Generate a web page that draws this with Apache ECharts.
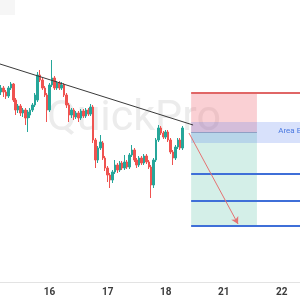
<!DOCTYPE html>
<html><head><meta charset="utf-8">
<script src="https://cdn.jsdelivr.net/npm/echarts@6/dist/echarts.min.js"></script>
<style>html,body{margin:0;padding:0;background:#fff}#c{width:300px;height:300px}</style>
</head><body><div id="c"></div>
<script>
// Day tick labels and the slot index of each day's start
const dayLabels = ['16', '17', '18', '21', '22'];
const dayIndex = [20, 44, 68, 92, 116];
const totalSlots = 124;
// Candles: [open, close, low, high]
const candles = [
[208,212,205,215],[212,208,203,214],[208,204,201,210],[204,212,202,214],[212,216,210,218],
[216,200,198,217],[200,190,185,202],[190,194,187,196],[194,187,184,196],[187,190,183,192],
[190,182,175,192],[182,188,168,190],[185,190,182,192],[190,195,188,197],[195,205,193,207],
[200,225,198,228],[225,220,218,230],[220,212,210,222],[212,205,203,214],[205,190,178,207],
[190,215,188,217],[215,222,213,240],[222,212,210,224],[212,217,210,219],[217,212,210,219],
[212,215,210,218],[215,205,203,217],[205,195,192,207],[195,185,178,197],[185,190,182,192],
[190,183,180,192],[183,187,181,189],[187,182,178,189],[182,189,180,191],[189,184,182,191],
[184,190,182,192],[190,186,184,192],[186,193,184,196],[193,160,157,195],[160,140,132,162],
[140,152,137,154],[152,158,150,165],[157,142,140,159],[142,132,129,144],[132,125,118,134],
[125,120,112,127],[120,128,117,130],[128,135,126,140],[135,130,127,137],[130,137,128,139],
[137,132,130,139],[132,138,130,145],[138,133,131,140],[133,145,131,147],[145,150,143,155],
[150,140,138,152],[140,135,132,142],[135,142,133,144],[142,137,135,144],[137,144,135,146],
[144,138,136,146],[138,133,131,140],[133,115,102,135],[115,140,112,142],[140,160,138,162],
[160,172,158,175],[172,167,165,174],[167,163,161,169],[163,168,161,170],[168,160,158,170],
[160,148,146,162],[148,142,135,150],[142,153,140,155],[153,160,151,162],[160,152,150,162],
[152,172,150,174]
];
// Drawing levels (price units) and time positions (slot units)
const trendLine = [[0, 236], [79.8, 175]];
const projection = [[78.1, 167], [98.4, 76]];
const zoneStart = 79, zoneEnd = 106.2;
const stopLevel = 207, entryLevel = 168;
const areaTop = 178, areaBottom = 157;
const targetLevels = [126, 99, 74];
const areaLabel = 'Area Entry';

const categories = [];
for (let i = 0; i < totalSlots; i++) categories.push(String(i));

const chart = echarts.init(document.getElementById('c'), null, {renderer: 'canvas'});
chart.setOption({
  animation: false,
  backgroundColor: '#fff',
  grid: {left: 0, right: 0, top: 0, bottom: 18, containLabel: false},
  xAxis: [{
    type: 'category', data: categories, boundaryGap: true,
    axisLine: {show: true, lineStyle: {color: '#e3e3e3', width: 1}},
    axisTick: {show: false},
    axisLabel: {
      interval: (i) => dayIndex.includes(i),
      formatter: (v, i) => { const k = dayIndex.indexOf(Number(v)); return k >= 0 ? dayLabels[k] : ''; },
      color: '#3c3c3c', fontSize: 10, fontWeight: 'bold', fontFamily: 'Roboto', margin: 5
    },
    splitLine: {show: false}
  }, {
    type: 'value', min: 0, max: totalSlots, show: false
  }],
  yAxis: {type: 'value', min: 18, max: 300, show: false, splitLine: {show: false}},
  graphic: [
    {type: 'rect', left: 0, top: 0, shape: {width: 15, height: 15}, style: {fill: '#f6f6f6'}, z: -10},
    {type: 'text', x: 134, y: 119, z: -5,
     style: {text: 'QuickPro', font: '43px Roboto', fill: '#ececec', textAlign: 'center', textVerticalAlign: 'middle'}}
  ],
  series: [
    {
      type: 'scatter', xAxisIndex: 1, data: [], silent: true, z: 1,
      markArea: {
        silent: true,
        data: [
          [{coord: [zoneStart, stopLevel], itemStyle: {color: 'rgba(240,110,120,0.32)'}}, {coord: [zoneEnd, entryLevel]}],
          [{coord: [zoneStart, entryLevel], itemStyle: {color: 'rgba(60,180,150,0.22)'}}, {coord: [zoneEnd, targetLevels[2]]}],
          [{coord: [zoneStart, areaTop], itemStyle: {color: 'rgba(90,130,240,0.24)'}}, {coord: [totalSlots, areaBottom]}]
        ]
      }
    },
    {
      type: 'candlestick', data: candles, barWidth: 2, z: 3,
      itemStyle: {color: '#26a69a', color0: '#ef5350', borderColor: '#26a69a', borderColor0: '#ef5350', borderWidth: 1}
    },
    {
      type: 'line', xAxisIndex: 1, data: trendLine, symbol: 'none', z: 4,
      lineStyle: {color: '#3a3a3a', width: 1}
    },
    {
      type: 'scatter', xAxisIndex: 1, data: [], silent: true, z: 5,
      markLine: {
        silent: true, symbol: 'none', label: {show: false},
        data: [
          [{coord: [zoneStart, stopLevel], lineStyle: {color: '#e06666', width: 2, type: 'solid'}}, {coord: [totalSlots, stopLevel]}],
          [{coord: [zoneStart, entryLevel], lineStyle: {color: '#8f9fc4', width: 1, type: 'solid'}}, {coord: [zoneEnd, entryLevel]}],
          [{coord: [zoneStart, targetLevels[0]], lineStyle: {color: '#3f6fd8', width: 2, type: 'solid'}}, {coord: [totalSlots, targetLevels[0]]}],
          [{coord: [zoneStart, targetLevels[1]], lineStyle: {color: '#3f6fd8', width: 2, type: 'solid'}}, {coord: [totalSlots, targetLevels[1]]}],
          [{coord: [zoneStart, targetLevels[2]], lineStyle: {color: '#3f6fd8', width: 2, type: 'solid'}}, {coord: [totalSlots, targetLevels[2]]}],
          [{coord: projection[0], symbol: 'none', lineStyle: {color: '#e57373', width: 1, type: 'solid'}},
           {coord: projection[1], symbol: 'arrow', symbolSize: [6, 7]}]
        ]
      },
      markPoint: {
        silent: true, symbol: 'circle', symbolSize: 0,
        data: [{coord: [115.0, 169], value: areaLabel}],
        label: {show: true, formatter: areaLabel, position: 'right', distance: 0, color: '#4a78e0', fontSize: 8, fontFamily: 'Roboto'}
      }
    }
  ]
});
</script>
</body></html>
